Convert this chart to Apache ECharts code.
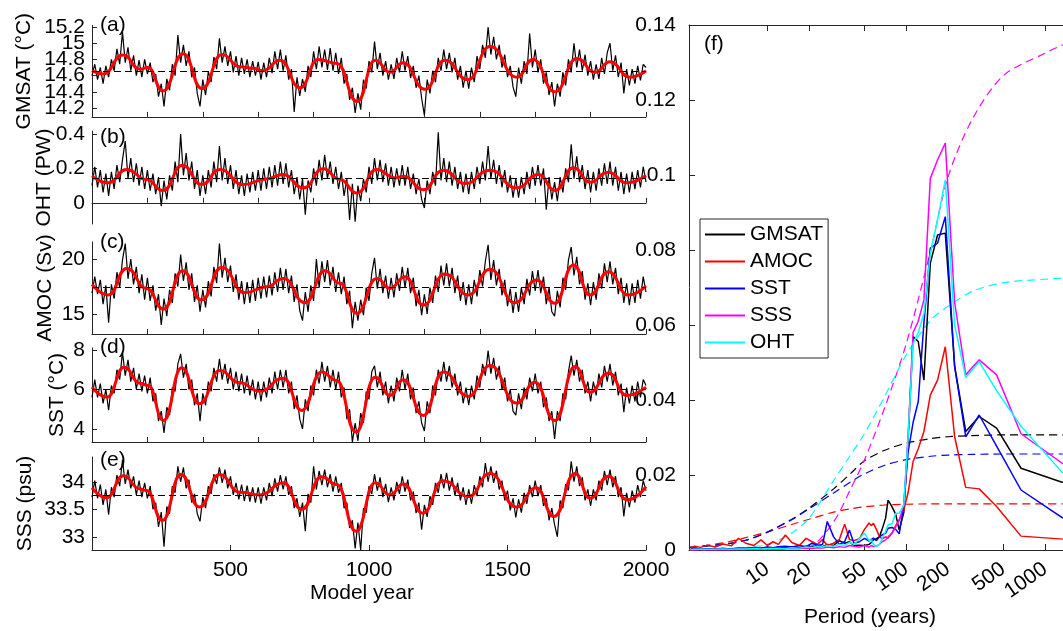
<!DOCTYPE html>
<html><head><meta charset="utf-8">
<script src="https://cdn.jsdelivr.net/npm/echarts@6/dist/echarts.min.js"></script>
<style>html,body{margin:0;padding:0;background:#fff}#c{width:1063px;height:631px}</style>
</head><body><div id="c"></div>
<script>
// ---------------- DATA ----------------
const decadeStep = 10; // raw series sampled every 10 model years, starting at year 0
const gmsatRaw = [14.60,14.74,14.55,14.70,14.50,14.72,14.58,14.80,14.66,14.93,
14.74,15.14,14.76,14.95,14.66,14.85,14.60,14.79,14.58,14.80,
14.62,14.76,14.52,14.62,14.34,14.50,14.22,14.56,14.42,14.74,
14.60,15.10,14.76,14.98,14.72,14.90,14.58,14.70,14.38,14.22,
14.55,14.36,14.65,14.52,14.83,14.68,15.06,14.76,14.96,14.72,
14.90,14.64,14.84,14.60,14.82,14.62,14.80,14.58,14.78,14.60,
14.77,14.55,14.76,14.58,14.82,14.63,14.90,14.68,14.92,14.66,
14.85,14.55,14.68,14.15,14.58,14.35,14.56,14.40,14.72,14.58,
14.90,14.68,14.96,14.70,14.92,14.67,14.94,14.66,14.88,14.62,
14.82,14.50,14.62,14.30,14.45,14.14,14.38,14.18,14.55,14.44,
14.78,14.64,15.02,14.68,14.88,14.60,14.78,14.55,14.74,14.56,
14.82,14.64,14.90,14.66,14.84,14.57,14.72,14.45,14.60,14.32,
14.11,14.55,14.38,14.66,14.52,14.82,14.66,14.92,14.68,14.88,
14.64,14.82,14.55,14.72,14.45,14.66,14.44,14.70,14.52,14.84,
14.68,14.98,14.82,15.20,14.86,15.08,14.80,14.98,14.70,14.86,
14.58,14.72,14.46,14.34,14.70,14.50,14.78,14.62,15.12,14.70,
14.92,14.64,14.80,14.50,14.64,14.36,14.52,14.22,14.50,14.34,
14.64,14.48,14.80,14.64,15.00,14.70,14.92,14.66,14.86,14.60,
14.78,14.55,14.74,14.56,14.82,14.62,14.88,15.00,14.66,14.85,
14.58,14.76,14.38,14.68,14.48,14.68,14.50,14.72,14.54,14.74,
14.70];
const ohtRaw = [0.10,0.21,0.09,0.19,0.06,0.17,0.04,0.18,0.08,0.22,
0.12,0.25,0.36,0.14,0.26,0.12,0.23,0.10,0.21,0.08,
0.19,0.07,0.17,0.05,0.15,-0.02,0.13,0.02,0.16,0.07,
0.24,0.12,0.40,0.16,0.29,0.13,0.24,0.08,0.19,0.04,
0.16,0.05,0.19,0.09,0.24,0.12,0.33,0.13,0.26,0.11,
0.22,0.08,0.19,0.05,0.16,0.04,0.17,0.06,0.18,0.07,
0.19,0.07,0.20,0.08,0.21,0.09,0.22,0.10,0.24,0.11,
0.23,0.09,0.19,0.05,0.15,0.02,0.14,-0.07,0.13,0.06,
0.20,0.10,0.25,0.13,0.28,0.14,0.24,0.11,0.21,0.08,
0.18,0.04,0.14,-0.10,0.11,-0.11,0.10,0.01,0.14,0.06,
0.21,0.11,0.26,0.13,0.25,0.12,0.23,0.10,0.21,0.09,
0.20,0.10,0.22,0.10,0.21,0.08,0.17,0.05,0.14,0.02,
-0.03,0.13,0.05,0.18,0.10,0.41,0.13,0.26,0.12,0.24,
0.10,0.21,0.08,0.18,0.06,0.17,0.05,0.18,0.08,0.21,
0.11,0.24,0.13,0.33,0.14,0.25,0.11,0.22,0.09,0.19,
0.06,0.16,0.03,0.14,0.03,0.15,0.05,0.18,0.08,0.21,
0.10,0.22,0.10,0.20,-0.04,0.15,0.02,0.12,0.01,0.15,
0.06,0.20,0.12,0.34,0.14,0.27,0.12,0.22,0.08,0.19,
0.06,0.18,0.07,0.20,0.10,0.23,0.11,0.24,0.10,0.21,
0.07,0.18,0.05,0.17,0.06,0.18,0.08,0.19,0.09,0.21,
0.12];
const amocRaw = [16.9,18.4,16.8,18.1,15.9,17.6,14.2,17.7,16.4,18.8,
17.4,19.9,21.4,18.2,20.0,17.7,19.3,16.9,18.6,16.3,
18.3,16.2,17.6,15.3,16.8,14.0,16.4,14.8,17.2,16.0,
18.7,17.5,20.4,18.0,19.7,17.2,18.7,16.1,17.6,15.2,
17.2,15.6,18.0,16.6,19.3,17.8,21.4,18.3,20.1,17.9,
19.4,17.0,18.6,16.3,18.0,15.9,17.9,16.0,18.1,16.2,
18.3,16.4,18.4,16.5,18.5,16.7,18.8,17.0,19.2,17.2,
19.1,16.9,18.5,16.1,17.7,15.3,14.4,17.0,15.2,17.6,
16.2,20.0,17.4,19.8,17.9,19.9,17.6,19.3,17.0,18.8,
16.8,18.4,15.9,17.1,13.7,16.1,14.4,16.3,14.9,17.4,
16.2,18.7,20.1,17.3,19.1,16.9,18.5,16.4,18.3,16.5,
18.7,17.1,19.3,17.4,19.2,16.9,18.3,15.7,17.2,14.9,
16.8,15.0,17.4,16.0,18.5,17.0,19.4,17.6,19.6,17.5,
19.2,16.9,18.5,16.2,17.9,15.8,17.7,15.9,18.1,16.6,
19.0,17.5,19.8,21.3,18.1,19.9,17.6,19.1,16.7,18.1,
15.7,17.3,15.1,17.0,15.2,17.4,15.9,18.2,16.7,18.9,
17.1,19.0,16.9,18.4,15.9,17.4,15.2,14.8,17.1,15.6,
18.3,17.2,19.9,21.1,18.5,20.2,17.7,18.9,16.3,17.8,
15.8,17.9,16.3,18.7,17.3,19.6,17.9,19.8,17.7,19.2,
16.8,18.3,16.0,17.8,15.8,17.8,16.0,18.1,16.4,18.4,
17.0];
const sstRaw = [5.6,6.5,5.6,6.3,5.3,6.0,4.95,6.2,5.8,7.0,
6.5,7.9,6.7,7.5,6.4,7.1,6.0,6.8,5.9,6.7,
5.8,6.6,5.4,5.8,4.4,4.9,3.8,5.1,4.7,6.1,
5.9,7.3,7.8,6.6,7.3,6.0,6.5,5.2,5.8,4.4,
5.8,5.2,6.4,5.9,7.1,6.4,7.55,6.5,7.3,6.3,
7.1,6.0,6.9,5.9,6.8,5.8,6.7,5.7,6.5,5.5,
6.4,5.4,6.4,5.6,6.6,5.8,6.9,6.0,7.0,6.1,
7.0,5.8,6.4,5.0,5.7,4.5,4.0,5.5,4.9,6.2,
5.7,7.0,6.3,7.4,6.4,7.2,6.1,7.0,6.0,6.9,
5.6,6.1,4.5,5.0,3.33,4.3,3.4,4.8,4.3,5.9,
5.5,6.9,7.2,6.1,6.9,5.7,6.4,5.3,6.2,5.4,
6.6,5.9,7.0,6.0,6.8,5.5,6.1,4.8,5.4,4.3,
3.9,5.4,4.8,6.2,5.7,7.0,6.4,7.4,6.4,7.2,
6.1,6.8,5.7,6.4,5.3,6.1,5.2,6.2,5.5,6.7,
6.1,7.3,6.7,7.97,6.8,7.6,6.5,7.2,6.0,6.6,
5.4,6.0,4.9,4.7,5.8,5.0,6.1,5.5,6.6,5.9,
6.8,5.8,6.4,5.1,5.6,4.4,4.9,3.5,4.9,4.4,
5.8,5.5,6.9,7.72,6.7,7.5,6.4,7.0,5.8,6.4,
5.4,6.4,5.7,6.8,6.1,7.2,6.4,7.3,6.2,6.9,
5.7,6.3,4.85,6.1,5.3,6.2,5.4,6.4,5.6,6.5,
6.2];
const sssRaw = [33.72,34.02,33.70,33.95,33.58,33.86,33.40,33.90,33.72,34.12,
33.92,34.40,33.96,34.22,33.88,34.10,33.76,34.02,33.72,33.98,
33.70,33.92,33.50,33.62,33.18,33.45,32.82,33.55,33.42,33.92,
33.80,34.28,34.00,34.26,33.88,34.04,33.62,33.78,33.42,33.28,
33.72,33.52,33.92,33.78,34.14,33.96,34.26,33.98,34.22,33.88,
34.10,33.76,33.98,33.68,33.95,33.65,33.93,33.64,33.90,33.62,
33.90,33.60,33.90,33.66,33.98,33.74,34.06,33.82,34.12,33.86,
34.10,33.76,33.92,33.52,33.70,33.36,33.62,33.10,33.78,33.62,
34.28,33.86,34.20,33.94,34.22,33.90,34.14,33.82,34.10,33.80,
33.98,33.52,33.62,33.16,33.30,32.79,33.26,32.76,33.52,33.44,
33.92,33.78,34.14,33.84,34.08,33.72,33.96,33.63,33.90,33.66,
34.00,33.78,34.10,33.82,34.04,33.66,33.82,33.43,33.62,33.13,
33.58,33.36,33.74,33.58,33.98,33.80,34.14,33.88,34.16,33.84,
34.08,33.75,33.98,33.66,33.90,33.58,33.86,33.60,33.94,33.74,
34.10,33.90,34.34,34.00,34.28,33.98,34.20,33.86,34.02,33.66,
33.84,33.48,33.70,33.35,33.68,33.44,33.80,33.60,33.94,33.72,
34.02,33.74,33.94,33.56,33.70,33.30,33.52,33.22,33.00,33.66,
33.52,33.96,33.84,34.37,34.00,34.28,33.92,34.08,33.66,33.86,
33.56,33.86,33.66,34.02,33.84,34.20,33.94,34.22,33.90,34.10,
33.72,33.90,33.37,33.80,33.54,33.84,33.62,33.94,33.72,34.02,
33.84];

// low-pass filtered curves: [model year, value] turning points
const gmsatSmooth = [[0,14.66],[40,14.62],[112,14.855],[173,14.68],[202,14.70],[256,14.41],[329,14.87],[397,14.44],[469,14.86],[534,14.71],[581,14.69],[617,14.66],[679,14.79],[751,14.45],[816,14.80],[884,14.75],[957,14.28],[1022,14.79],[1076,14.64],[1123,14.76],[1202,14.43],[1274,14.79],[1357,14.55],[1437,14.96],[1534,14.58],[1592,14.80],[1671,14.40],[1751,14.81],[1816,14.64],[1870,14.77],[1942,14.58],[2000,14.66]];
const ohtSmooth = [[0,0.157],[58,0.116],[125,0.194],[197,0.135],[256,0.071],[327,0.218],[396,0.106],[462,0.194],[546,0.106],[631,0.139],[690,0.165],[763,0.086],[835,0.198],[895,0.135],[956,0.057],[1028,0.194],[1094,0.145],[1125,0.155],[1196,0.076],[1268,0.19],[1347,0.112],[1437,0.19],[1533,0.086],[1612,0.165],[1672,0.072],[1738,0.204],[1798,0.12],[1864,0.178],[1930,0.116],[2000,0.159]];
const amocSmooth = [[0,17.7],[59,16.73],[125,19.15],[197,17.33],[258,15.45],[327,18.94],[396,16.27],[468,19.24],[552,16.94],[631,17.48],[691,18.24],[769,16.03],[841,18.94],[895,17.79],[956,15.06],[1028,18.24],[1076,17.33],[1130,18.39],[1196,15.82],[1274,18.64],[1359,16.73],[1437,19.06],[1527,16.03],[1605,18.09],[1671,15.97],[1738,19.45],[1798,16.73],[1864,18.85],[1936,16.73],[2000,17.55]];
const sstSmooth = [[0,6.12],[55,5.61],[116,7.13],[173,6.32],[203,6.20],[258,4.43],[324,7.10],[388,5.28],[462,6.96],[530,6.35],[606,5.91],[691,6.57],[757,4.94],[829,6.88],[883,6.46],[953,3.84],[1022,6.62],[1076,5.70],[1124,6.49],[1196,4.68],[1268,6.88],[1359,5.65],[1437,7.22],[1533,5.31],[1599,6.37],[1671,4.43],[1744,7.16],[1798,5.86],[1864,6.83],[1930,5.70],[2000,6.12]];
const sssSmooth = [[0,33.89],[53,33.71],[113,34.11],[173,33.87],[197,33.84],[254,33.30],[321,34.13],[388,33.54],[460,34.13],[534,33.81],[606,33.76],[691,33.98],[757,33.50],[829,34.09],[883,33.95],[953,33.10],[1022,33.98],[1076,33.76],[1124,33.96],[1194,33.43],[1268,34.02],[1359,33.73],[1437,34.15],[1533,33.54],[1603,33.89],[1668,33.37],[1744,34.15],[1798,33.70],[1864,34.10],[1932,33.67],[2000,33.91]];

const gmsatMean = 14.65, ohtMean = 0.135, amocMean = 17.43, sstMean = 6.0, sssMean = 33.76;
const gmsatTicks = [14.2,14.4,14.6,14.8,15,15.2];
const ohtTicks = [0,0.2,0.4];
const amocTicks = [15,20];
const sstTicks = [4,6,8];
const sssTicks = [33,33.5,34];
const yearTicks = [500,1000,1500,2000];

// spectra (panel f)
const periods = [1340,670,447,335,268,223,191,168,149,134,122,112,103,96,89,84,79,74,71,67,64,61,58,56,54,50,46,42,39,36,33,30,27,25,23,21,19,17,15,13.5,12,11,10,9,8,7,6.2,5.5,4.8,4.2,3.7,3.3,3,2.8];
const specGMSAT = [0.018,0.0218,0.0325,0.0356,0.0316,0.049,0.0845,0.084,0.0765,0.0453,
0.0556,0.0569,0.029,0.010,0.0053,0.0095,0.0115,0.0133,0.0085,0.0055,
0.0035,0.003,0.0027,0.002,0.0015,0.0012,0.0013,0.0012,0.0022,0.0018,
0.0025,0.0012,0.0015,0.0009,0.0012,0.0008,0.0010,0.0006,0.0009,0.0006,
0.0008,0.0005,0.0007,0.0005,0.0006,0.0004,0.0005,0.0003,0.0004,0.0003,
0.0003,0.0002,0.0003,0.0002];
const specAMOC = [0.0029,0.0037,0.0116,0.0163,0.0167,0.0302,0.0542,0.0453,0.0413,0.0316,
0.027,0.0236,0.0152,0.0107,0.008,0.0065,0.0045,0.0032,0.0035,0.003,
0.0036,0.0055,0.0071,0.0065,0.0072,0.0055,0.003,0.0025,0.0028,0.0069,
0.0028,0.0018,0.0012,0.0028,0.0015,0.0022,0.0031,0.0012,0.002,0.004,
0.0015,0.0022,0.0012,0.0027,0.0012,0.0018,0.0031,0.0011,0.0016,0.0008,
0.0013,0.0007,0.001,0.0006];
const specSST = [0.0085,0.016,0.0277,0.036,0.0302,0.0489,0.0889,0.0818,0.0805,0.0605,
0.0396,0.034,0.026,0.012,0.0043,0.0055,0.006,0.0058,0.0045,0.004,
0.0035,0.0025,0.0032,0.0028,0.0024,0.0031,0.0022,0.0018,0.0053,0.0022,
0.0015,0.0035,0.0076,0.0015,0.0012,0.0018,0.0009,0.0012,0.0008,0.001,
0.0009,0.0006,0.0008,0.0005,0.0007,0.0004,0.0005,0.0003,0.0004,0.0003,
0.0003,0.0002,0.0003,0.0002];
const specSSS = [0.023,0.031,0.0467,0.0507,0.0467,0.066,0.1085,0.104,0.0991,0.0667,
0.061,0.058,0.03,0.012,0.008,0.0062,0.0045,0.0035,0.0027,0.0022,
0.0015,0.001,0.0009,0.0012,0.0008,0.0012,0.0008,0.001,0.0012,0.0007,
0.0009,0.0006,0.0008,0.0005,0.0006,0.0004,0.0005,0.0003,0.0004,0.0003,
0.0003,0.0002,0.0003,0.0002,0.0002,0.0001,0.0002,0.0001,0.0001,0.0001,
0.0001,0.0001,0.0001,0.0001];
const specOHT = [0.0205,0.033,0.0425,0.0502,0.046,0.06,0.0987,0.088,0.079,0.063,
0.058,0.055,0.03,0.012,0.0098,0.0098,0.007,0.0067,0.005,0.003,
0.0015,0.0009,0.0015,0.0027,0.0025,0.0045,0.003,0.0015,0.002,0.0012,
0.0015,0.001,0.0012,0.0008,0.001,0.0007,0.0008,0.0005,0.0006,0.0004,
0.0005,0.0004,0.0004,0.0003,0.0004,0.0003,0.0003,0.0002,0.0003,0.0002,
0.0002,0.0002,0.0002,0.0001];
// red-noise reference spectra (dashed)
const dashPeriods = [2.75,3,5,7,10,15,20,30,40,50,70,100,150,200,300,500,1000,1340];
const nullGMSAT = [0.0007,0.0008,0.0016,0.0026,0.0048,0.0082,0.0112,0.0163,0.0205,0.0238,0.0266,0.0285,0.0297,0.0302,0.0305,0.0307,0.0307,0.0307];
const nullAMOC = [0.0007,0.0008,0.002,0.0033,0.0048,0.0068,0.0082,0.0101,0.011,0.0115,0.012,0.0122,0.0123,0.0123,0.0123,0.0123,0.0123,0.0123];
const nullSST = [0.0007,0.0008,0.0016,0.0026,0.0047,0.0081,0.011,0.0152,0.0182,0.0203,0.0226,0.0241,0.025,0.0253,0.0255,0.0256,0.0256,0.0256];
const nullSSS = [0,0.0001,0.0001,0.0002,0.0003,0.0005,0.0008,0.0075,0.0165,0.024,0.038,0.055,0.08,0.0995,0.115,0.1265,0.1325,0.1347];
const nullOHT = [0.0001,0.0001,0.0003,0.0007,0.0015,0.0045,0.0085,0.0185,0.0255,0.031,0.041,0.052,0.0613,0.065,0.069,0.0713,0.0722,0.0725];
const periodTicks = [10,20,50,100,200,500,1000];
const specNames = ['GMSAT','AMOC','SST','SSS','OHT'];

// ---------------- CHART ----------------
const FONT = '"Liberation Sans", Arial, Helvetica, sans-serif';
const AX = '#262626';
const TXT = '#000';
const plain = v => String(v);
const panelCfg = [
  {name:'GMSAT (°C)', raw:gmsatRaw, smooth:gmsatSmooth, mean:gmsatMean, ticks:gmsatTicks, min:14.09, max:15.22, top:25.4, height:91.5, gap:57, tag:'(a)', tagTop:15},
  {name:'OHT (PW)', raw:ohtRaw, smooth:ohtSmooth, mean:ohtMean, ticks:ohtTicks, min:-0.1235, max:0.418, top:131, height:93, gap:37, tag:'(b)', tagTop:127},
  {name:'AMOC (Sv)', raw:amocRaw, smooth:amocSmooth, mean:amocMean, ticks:amocTicks, min:13.18, max:21.55, top:242, height:92, gap:36, tag:'(c)', tagTop:232},
  {name:'SST (°C)', raw:sstRaw, smooth:sstSmooth, mean:sstMean, ticks:sstTicks, min:3.34, max:8.1, top:348, height:94, gap:24, tag:'(d)', tagTop:337},
  {name:'SSS (psu)', raw:sssRaw, smooth:sssSmooth, mean:sssMean, ticks:sssTicks, min:32.76, max:34.45, top:457, height:93, gap:56, tag:'(e)', tagTop:450}
];
const specColors = ['#000000','#ff0000','#0000ff','#ff00ff','#00ffff'];
const specData = [specGMSAT, specAMOC, specSST, specSSS, specOHT];
const nullData = [nullGMSAT, nullAMOC, nullSST, nullSSS, nullOHT];

const grid = [], xAxis = [], yAxis = [], series = [], graphic = [], extraY = [];
const lbl = {fontSize:21, fontFamily:FONT, color:TXT};

panelCfg.forEach((p, i) => {
  const last = i === panelCfg.length - 1;
  grid.push({left:92, width:554, top:p.top, height:p.height, containLabel:false, outerBoundsMode:'none'});
  const xa = {type:'value', gridIndex:i, min:0, max:2000,
    axisLine:{show:true, lineStyle:{color:AX, width:1}},
    axisTick:{show:true, inside:true, length:5, lineStyle:{color:AX}},
    axisLabel:{show:last, margin:10, formatter:plain, hideOverlap:false, ...lbl},
    splitLine:{show:false}, nameMoveOverlap:false};
  if (last) {
    xa.axisTick.customValues = yearTicks;
    xa.axisLabel.customValues = yearTicks;
    xa.name = 'Model year'; xa.nameLocation = 'middle'; xa.nameGap = 33;
    xa.nameTextStyle = {...lbl, padding:[0,14,0,0]};
  } else {
    xa.interval = 200;
  }
  xAxis.push(xa);
  // dense tick labels are split over two overlaid axes so none of them gets dropped
  const labA = p.ticks.filter((_, k) => k % 2 === 0);
  const labB = p.ticks.filter((_, k) => k % 2 === 1);
  yAxis.push({type:'value', gridIndex:i, min:p.min, max:p.max,
    axisLine:{show:true, lineStyle:{color:AX, width:1}},
    axisTick:{show:true, inside:true, length:5, customValues:p.ticks, lineStyle:{color:AX}},
    axisLabel:{show:true, customValues:labA, margin:7, hideOverlap:false, formatter:plain, ...lbl},
    splitLine:{show:false},
    name:p.name, nameLocation:'middle', nameRotate:90, nameGap:p.gap, nameMoveOverlap:false,
    nameTextStyle:{...lbl}});
  if (labB.length) {
    extraY.push({type:'value', gridIndex:i, min:p.min, max:p.max, position:'left', offset:0,
      axisLine:{show:false}, axisTick:{show:false},
      axisLabel:{show:true, customValues:labB, margin:7, hideOverlap:false, formatter:plain, ...lbl},
      splitLine:{show:false}});
  }
  series.push({type:'line', xAxisIndex:i, yAxisIndex:i, symbol:'none', silent:true,
    data:p.raw.map((v, k) => [k * decadeStep, v]),
    lineStyle:{color:'#000', width:1.2}, z:2,
    markLine:{silent:true, symbol:['none','none'], label:{show:false},
      lineStyle:{color:'#000', width:1, type:[7,4]}, data:[{yAxis:p.mean}]}});
  series.push({type:'line', xAxisIndex:i, yAxisIndex:i, symbol:'none', silent:true,
    smooth:0.5, smoothMonotone:'x', data:p.smooth,
    lineStyle:{color:'#ff0000', width:3}, z:3});
  graphic.push({type:'text', left:100, top:p.tagTop, z:20,
    style:{text:p.tag, fontSize:21, fontFamily:FONT, fill:TXT}});
});

// panel (f)
const fi = panelCfg.length;
grid.push({left:689, width:398, top:25, height:525, containLabel:false, outerBoundsMode:'none'});
xAxis.push({type:'log', logBase:10, gridIndex:fi, min:2.73, max:2000, position:'bottom',
  axisLine:{show:true, lineStyle:{color:AX, width:1}},
  axisTick:{show:true, inside:true, length:6, customValues:periodTicks, lineStyle:{color:AX}},
  axisLabel:{show:true, customValues:periodTicks, rotate:35, margin:17, formatter:plain, hideOverlap:false, ...lbl},
  splitLine:{show:false}, minorTick:{show:false},
  name:'Period (years)', nameLocation:'middle', nameGap:57, nameMoveOverlap:false,
  nameTextStyle:{...lbl, padding:[0,36,0,0]}});
xAxis.push({type:'log', logBase:10, gridIndex:fi, min:2.73, max:2000, position:'top',
  axisLine:{show:true, onZero:false, lineStyle:{color:AX, width:1}},
  axisTick:{show:true, inside:true, length:6, customValues:periodTicks, lineStyle:{color:AX}},
  axisLabel:{show:false}, splitLine:{show:false}});
yAxis.push({type:'value', gridIndex:fi, min:0, max:0.14, interval:0.02,
  axisLine:{show:true, lineStyle:{color:AX, width:1}},
  axisTick:{show:true, inside:true, length:6, lineStyle:{color:AX}},
  axisLabel:{show:true, margin:13, formatter:plain, hideOverlap:false, ...lbl},
  splitLine:{show:false}});
extraY.forEach(a => yAxis.push(a));

nullData.forEach((d, i) => {
  series.push({type:'line', name:specNames[i] + ' red noise', xAxisIndex:fi, yAxisIndex:fi,
    symbol:'none', silent:true, smooth:0.3, color:specColors[i],
    data:dashPeriods.map((p, k) => [p, d[k]]),
    lineStyle:{color:specColors[i], width:1.2, type:[8,5]}, z:2});
});
specData.forEach((d, i) => {
  series.push({type:'line', name:specNames[i], xAxisIndex:fi, yAxisIndex:fi,
    symbol:'none', silent:true, color:specColors[i],
    data:periods.map((p, k) => [p, d[k]]),
    lineStyle:{color:specColors[i], width:1.5}, z:3});
});
graphic.push({type:'text', left:704, top:34, z:20,
  style:{text:'(f)', fontSize:21, fontFamily:FONT, fill:TXT}});

const option = {
  animation:false,
  backgroundColor:'#fff',
  textStyle:{fontFamily:FONT},
  grid, xAxis, yAxis, series, graphic,
  legend:{data:specNames, orient:'vertical', left:700, top:219, icon:'rect',
    itemWidth:40, itemHeight:2, itemGap:6, padding:[5,5,5,5], selectedMode:false,
    borderColor:AX, borderWidth:1, backgroundColor:'#fff',
    textStyle:{...lbl}, z:10}
};
const chart = echarts.init(document.getElementById('c'), null, {renderer:'canvas'});
chart.setOption(option);
</script>
</body></html>
